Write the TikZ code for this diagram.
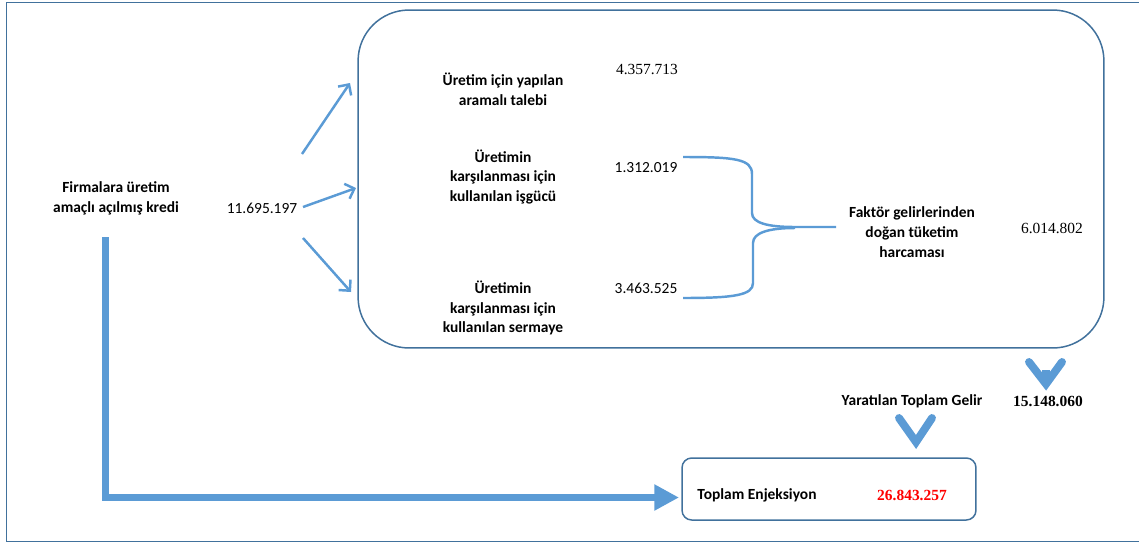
\documentclass[tikz,border=0pt]{standalone}
\usepackage{fontspec}
\setmainfont{Carlito}
\newfontfamily\timesfont{Liberation Serif}
\usetikzlibrary{arrows.meta}

\definecolor{frameblue}{RGB}{65,113,156}
\definecolor{flowblue}{RGB}{91,155,213}

\begin{document}
\begin{tikzpicture}[x=0.02cm, y=-0.02cm, >={Straight Barb[length=4.5pt,width=9pt]},
  txt/.style={font=\fontsize{8.8}{11.3}\selectfont\bfseries, align=center, inner sep=0pt},
  num/.style={font=\fontsize{8.8}{11.3}\selectfont, inner sep=0pt},
  tnum/.style={font=\fontsize{8.8}{11.3}\selectfont\timesfont, inner sep=0pt},
  flow/.style={draw=flowblue, line width=1.4pt},
  chevron/.style={draw=flowblue, line width=4.5pt, line cap=round, line join=miter},
  bigflow/.style={draw=flowblue, line width=4.5pt, -{Triangle[length=14pt,width=14pt]}}]
  \useasboundingbox (0,0) rectangle (1139,545);

  % outer frame, open on the right
  \draw[frameblue, line width=0.85pt] (1145,2.5) -- (6.5,2.5) -- (6.5,541.5) -- (1145,541.5);

  % boxes
  \node[draw=frameblue, line width=0.85pt, rounded corners=29pt, minimum width=14.92cm, minimum height=6.76cm] (box) at (731,179) {};
  \node[draw=frameblue, line width=0.85pt, rounded corners=5.5pt, minimum width=5.88cm, minimum height=1.24cm] (enjbox) at (829,489) {};

  % credit
  \node[txt] (kredi) at (116,198) {Firmalara üretim\\amaçlı açılmış kredi};
  \node[num] (kredival) at (262,208) {11.695.197};

  % inside the box
  \node[txt] (talep) at (503,89) {Üretim için yapılan\\aramalı talebi};
  \node[tnum] (talepval) at (647,69) {4.357.713};
  \node[txt] (isgucu) at (503,177) {Üretimin\\karşılanması için\\kullanılan işgücü};
  \node[num] (isgucuval) at (646,168) {1.312.019};
  \node[txt] (sermaye) at (503,308) {Üretimin\\karşılanması için\\kullanılan sermaye};
  \node[num] (sermayeval) at (646,288) {3.463.525};
  \node[txt] (faktor) at (912,232) {Faktör gelirlerinden\\doğan tüketim\\harcaması};
  \node[tnum] (faktorval) at (1052,228) {6.014.802};

  % below
  \node[txt] (gelir) at (912,401) {Yaratılan Toplam Gelir};
  \node[tnum, font=\fontsize{8.8}{11.3}\selectfont\timesfont\bfseries] (gelirval) at (1048,401) {15.148.060};
  \node[txt] (enjeksiyon) at (757,495) {Toplam Enjeksiyon};
  \node[tnum, text=red, font=\fontsize{8.8}{11.3}\selectfont\timesfont\bfseries] (enjval) at (912,495) {26.843.257};

  % fan of arrows
  \coordinate (fan1) at (302,154);
  \coordinate (fan2) at (303,207);
  \coordinate (fan3) at (303,238);
  \coordinate (tip1) at (350,83);
  \coordinate (tip2) at (356,188);
  \coordinate (tip3) at (351,292);
  \draw[flow, ->] (fan1) -- (tip1);
  \draw[flow, ->] (fan2) -- (tip2);
  \draw[flow, ->] (fan3) -- (tip3);

  % brace
  \coordinate (brtop) at (683,157);
  \coordinate (brbot) at (683,298);
  \coordinate (brtip) at (836,227);
  \draw[flow] (brtop) .. controls (735,157) and (752,159) .. (752,174) -- (752,213)
    .. controls (752,223) and (768,227) .. (795,227) -- (brtip);
  \draw[flow] (brbot) .. controls (735,298) and (753,295) .. (753,283) -- (753,243)
    .. controls (753,233) and (768,228) .. (795,228);

  % total chevrons
  \draw[chevron] (1029,362) -- (1046,384) -- (1062,362);
  \draw[flowblue, line width=4.5pt] (1046,370) -- (1046,380);
  \draw[chevron] (899,418) -- (916,442) -- (932,418);

  % credit goes to injection
  \coordinate (kredidown) at (105.5,237);
  \coordinate (corner) at (105.5,497.5);
  \coordinate (enjin) at (679,497.5);
  \draw[bigflow] (kredidown) -- (corner) -- (enjin);
\end{tikzpicture}
\end{document}
